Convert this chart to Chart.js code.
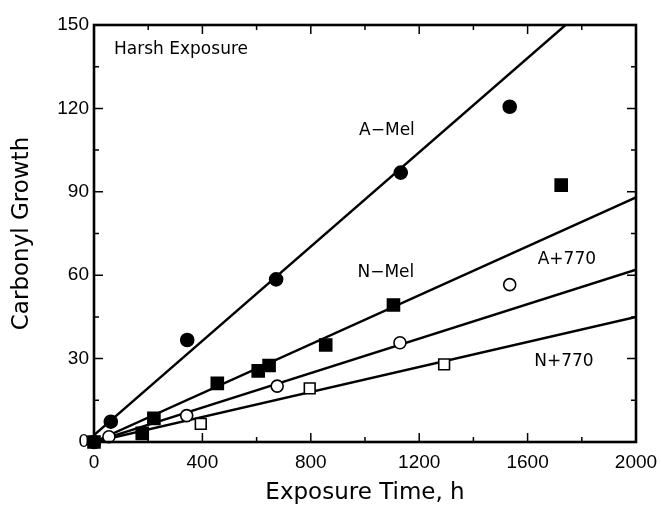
<!DOCTYPE html>
<html>
<head>
<meta charset="utf-8">
<script src="https://cdn.jsdelivr.net/npm/chart.js@4.4.1/dist/chart.umd.min.js"></script>
<style>
  html, body { margin: 0; padding: 0; background: #fff; }
  #wrap { width: 661px; height: 513px; }
</style>
</head>
<body>
<div id="wrap"><canvas id="chart"></canvas></div>
<script>
// tick labels
let xTicks = [0, 400, 800, 1200, 1600, 2000];
let yTicks = [0, 30, 60, 90, 120, 150];

// measured points (exposure time h, carbonyl growth)
let aMelX = [0, 62, 344, 672, 1132, 1534];
let aMelY = [0, 7.3, 36.7, 58.5, 96.9, 120.6];
let nMelX = [0, 178, 221, 455, 606, 646, 855, 1105, 1724];
let nMelY = [0, 3.1, 8.5, 21.1, 25.6, 27.5, 34.9, 49.3, 92.4];
let a770X = [0, 55, 342, 676, 1129, 1534];
let a770Y = [0, 1.9, 9.5, 20.1, 35.7, 56.6];
let n770X = [394, 796, 1292];
let n770Y = [6.5, 19.3, 27.9];

// fitted lines (end points)
let aMelFitX = [0, 1740];
let aMelFitY = [2.5, 150];
let nMelFitX = [0, 2000];
let nMelFitY = [0, 88];
let a770FitX = [0, 2000];
let a770FitY = [0, 62];
let n770FitX = [0, 2000];
let n770FitY = [0, 45];

function pts(xs, ys) {
    return xs.map((x, i) => ({ x: x, y: ys[i] }));
}

function markers(xs, ys, style, filled, r) {
    return {
        data: pts(xs, ys),
        showLine: false,
        pointStyle: style,
        pointRadius: r,
        pointHoverRadius: r,
        pointBackgroundColor: filled ? '#000' : '#fff',
        pointBorderColor: '#000',
        pointBorderWidth: 1.6,
        clip: false,
        order: 1
    };
}

function fitLine(xs, ys) {
    return {
        data: pts(xs, ys),
        showLine: true,
        borderColor: '#000',
        borderWidth: 2.4,
        pointRadius: 0,
        order: 2
    };
}

// frame, inward ticks and text labels inside the plot
const frameTicks = {
    id: 'frameTicks',
    afterDraw(chart, args, opts) {
        const ctx = chart.ctx;
        const a = chart.chartArea;
        const x = chart.scales.x;
        const y = chart.scales.y;
        ctx.save();
        ctx.strokeStyle = '#000';
        ctx.lineWidth = 1.5;
        ctx.beginPath();
        for (let i = 0; i < xTicks.length; i++) {
            let px = x.getPixelForValue(xTicks[i]);
            ctx.moveTo(px, a.bottom); ctx.lineTo(px, a.bottom - 9);
            ctx.moveTo(px, a.top); ctx.lineTo(px, a.top + 9);
            if (i < xTicks.length - 1) {
                let mx = x.getPixelForValue((xTicks[i] + xTicks[i + 1]) / 2);
                ctx.moveTo(mx, a.bottom); ctx.lineTo(mx, a.bottom - 5);
                ctx.moveTo(mx, a.top); ctx.lineTo(mx, a.top + 5);
            }
        }
        for (let i = 0; i < yTicks.length; i++) {
            let py = y.getPixelForValue(yTicks[i]);
            ctx.moveTo(a.left, py); ctx.lineTo(a.left + 9, py);
            ctx.moveTo(a.right, py); ctx.lineTo(a.right - 9, py);
            if (i < yTicks.length - 1) {
                let my = y.getPixelForValue((yTicks[i] + yTicks[i + 1]) / 2);
                ctx.moveTo(a.left, my); ctx.lineTo(a.left + 5, my);
                ctx.moveTo(a.right, my); ctx.lineTo(a.right - 5, my);
            }
        }
        ctx.stroke();
        ctx.lineWidth = 2.6;
        ctx.strokeRect(a.left, a.top, a.right - a.left, a.bottom - a.top);

        ctx.fillStyle = '#000';
        ctx.font = '17px "DejaVu Sans"';
        ctx.textBaseline = 'middle';
        opts.labels.forEach(l => {
            ctx.textAlign = l.align || 'center';
            ctx.fillText(l.text, x.getPixelForValue(l.x), y.getPixelForValue(l.y));
        });
        ctx.restore();
    }
};

new Chart(document.getElementById('chart'), {
    type: 'scatter',
    data: {
        datasets: [
            markers(aMelX, aMelY, 'circle', true, 6.5),
            markers(nMelX, nMelY, 'rect', true, 8.5),
            markers(a770X, a770Y, 'circle', false, 6),
            markers(n770X, n770Y, 'rect', false, 7.6),
            fitLine(aMelFitX, aMelFitY),
            fitLine(nMelFitX, nMelFitY),
            fitLine(a770FitX, a770FitY),
            fitLine(n770FitX, n770FitY)
        ]
    },
    options: {
        responsive: true,
        maintainAspectRatio: false,
        animation: false,
        layout: { padding: { left: 0, top: 25, right: 25, bottom: 0 } },
        plugins: {
            legend: { display: false },
            tooltip: { enabled: false },
            frameTicks: {
                labels: [
                    { text: 'Harsh Exposure', x: 74, y: 141, align: 'left' },
                    { text: 'A\u2212Mel', x: 1081, y: 112 },
                    { text: 'N\u2212Mel', x: 1077, y: 61 },
                    { text: 'A+770', x: 1745, y: 65.5 },
                    { text: 'N+770', x: 1734, y: 29 }
                ]
            }
        },
        scales: {
            x: {
                type: 'linear',
                min: 0,
                max: 2000,
                afterBuildTicks: s => { s.ticks = xTicks.map(v => ({ value: v })); },
                afterFit: s => { s.height = 71; s.paddingLeft = 0; s.paddingRight = 0; },
                grid: { display: false, drawTicks: false },
                border: { display: false },
                ticks: {
                    color: '#000', padding: 9, maxRotation: 0,
                    font: { family: 'Liberation Sans', size: 19 },
                    callback: v => String(v)
                },
                title: {
                    display: true,
                    text: 'Exposure Time, h',
                    color: '#000',
                    font: { family: 'DejaVu Sans', size: 23 },
                    padding: { top: 0, bottom: 6 }
                }
            },
            y: {
                type: 'linear',
                min: 0,
                max: 150,
                afterBuildTicks: s => { s.ticks = yTicks.map(v => ({ value: v })); },
                afterFit: s => { s.width = 94; s.paddingTop = 0; s.paddingBottom = 0; },
                grid: { display: false, drawTicks: false },
                border: { display: false },
                ticks: {
                    color: '#000', padding: 5,
                    font: { family: 'Liberation Sans', size: 19 },
                    callback: v => String(v)
                },
                title: {
                    display: true,
                    text: 'Carbonyl Growth',
                    color: '#000',
                    font: { family: 'DejaVu Sans', size: 23 },
                    padding: { top: 8, bottom: 0 }
                }
            }
        }
    },
    plugins: [frameTicks]
});
</script>
</body>
</html>
